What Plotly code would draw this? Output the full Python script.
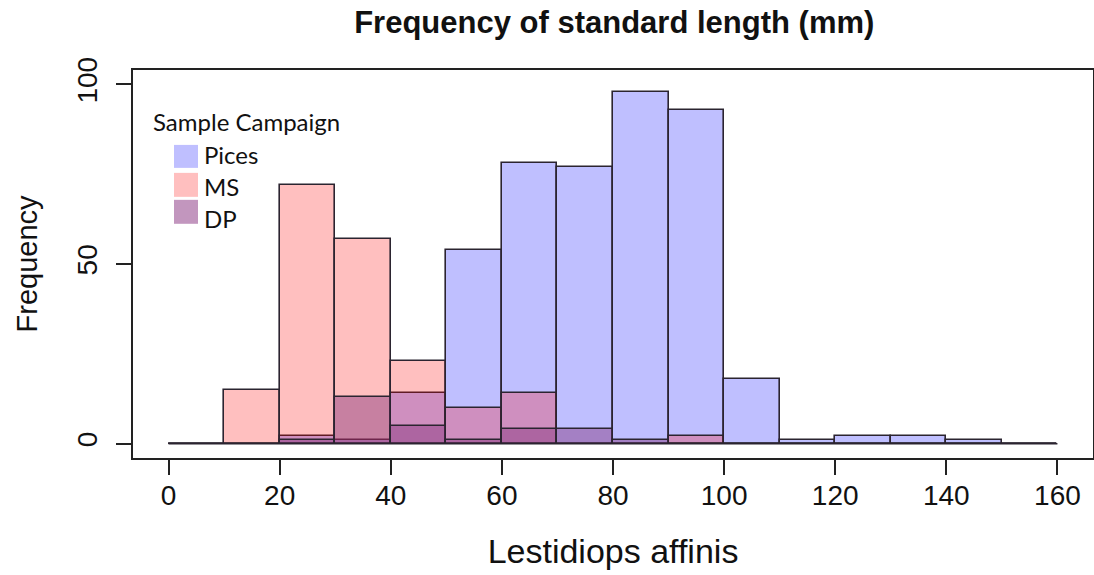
import plotly.graph_objects as go

# Bin edges (mm) and counts per campaign
bin_edges = [0, 10, 20, 30, 40, 50, 60, 70, 80, 90, 100, 110, 120, 130, 140, 150, 160]
pices = [0, 0, 2, 1, 14, 54, 78, 77, 98, 93, 18, 1, 2, 2, 1, 0]
ms = [0, 15, 72, 57, 23, 10, 14, 0, 0, 2, 0, 0, 0, 0, 0, 0]
dp = [0, 0, 1, 13, 5, 1, 4, 4, 1, 0, 0, 0, 0, 0, 0, 0]

series_names = ["Pices", "MS", "DP"]
fill_colors = ["rgba(0,0,255,0.25)", "rgba(255,0,0,0.25)", "rgba(130,50,125,0.45)"]
swatch_colors = ["rgb(191,191,255)", "rgb(255,191,191)", "rgb(194,150,190)"]

x_ticks = [0, 20, 40, 60, 80, 100, 120, 140, 160]
y_ticks = [0, 50, 100]

centers = [(a + b) / 2 for a, b in zip(bin_edges[:-1], bin_edges[1:])]
widths = [b - a for a, b in zip(bin_edges[:-1], bin_edges[1:])]

W, H = 1094, 575
M_L, M_R, M_T, M_B = 133, 1, 70, 116.5
outline = "#2b2430"
font_main = "Liberation Sans, Arial, sans-serif"
font_legend = "Lato, Open Sans, sans-serif"

fig = go.Figure()

# zero-height bins render as a flat line along the baseline
fig.add_trace(go.Scatter(
    x=[bin_edges[0], bin_edges[-1]], y=[0, 0], mode="lines",
    line=dict(color=outline, width=1.5), showlegend=False, hoverinfo="skip"))

for name, vals, col in zip(series_names, [pices, ms, dp], fill_colors):
    fig.add_trace(go.Bar(
        x=centers, y=vals, width=widths, name=name,
        marker=dict(color=col, line=dict(color=outline, width=1.6)),
        showlegend=False))


def px_x(p):
    return (p - M_L) / (W - M_L - M_R)


def px_y(p):
    return 1 - (p - M_T) / (H - M_T - M_B)


# legend block
shapes = []
annotations = []
rows = [(145, 168), (173, 197), (200, 224)]
label_rows = [155, 187, 219]
for (top, bot), ly, col, name in zip(rows, label_rows, swatch_colors, series_names):
    shapes.append(dict(type="rect", xref="paper", yref="paper",
                       x0=px_x(174), x1=px_x(198), y0=px_y(bot), y1=px_y(top),
                       fillcolor=col, line=dict(width=0)))
    annotations.append(dict(xref="paper", yref="paper", x=px_x(202),
                            y=px_y(ly), text=name, showarrow=False,
                            xanchor="left", yanchor="middle",
                            font=dict(family=font_legend, size=24, color="#111")))
annotations.append(dict(xref="paper", yref="paper", x=px_x(151), y=px_y(122),
                        text="Sample Campaign", showarrow=False,
                        xanchor="left", yanchor="middle",
                        font=dict(family=font_legend, size=24, color="#111")))

fig.update_layout(
    width=W, height=H,
    margin=dict(l=M_L, r=M_R, t=M_T, b=M_B),
    paper_bgcolor="white", plot_bgcolor="white",
    barmode="overlay", bargap=0,
    title=dict(text="<b>Frequency of standard length (mm)</b>",
               x=0.5615, xanchor="center", y=1 - 22 / H, yanchor="middle",
               font=dict(family=font_main, size=31, color="#111")),
    shapes=shapes, annotations=annotations,
    xaxis=dict(range=[-6.4, 166.4], tickvals=x_ticks, ticks="outside", ticklen=15,
               tickwidth=1.5, tickcolor="#222", showline=True, mirror=True,
               linecolor="#222", linewidth=1.5, showgrid=False, zeroline=False,
               ticklabelstandoff=-3,
               tickfont=dict(family=font_main, size=28, color="#111"),
               title=dict(text="Lestidiops affinis", standoff=29,
                          font=dict(family=font_main, size=34, color="#111")),
               automargin=False),
    yaxis=dict(range=[-4, 104], tickvals=y_ticks, ticks="outside", ticklen=15,
               tickwidth=1.5, tickcolor="#222", showline=True, mirror=True,
               linecolor="#222", linewidth=1.5, showgrid=False, zeroline=False,
               tickangle=-90, ticklabelstandoff=8,
               tickfont=dict(family=font_main, size=28, color="#111"),
               title=dict(text="Frequency", standoff=26,
                          font=dict(family=font_main, size=29, color="#111")),
               automargin=False),
)

fig.write_html("out.html")
